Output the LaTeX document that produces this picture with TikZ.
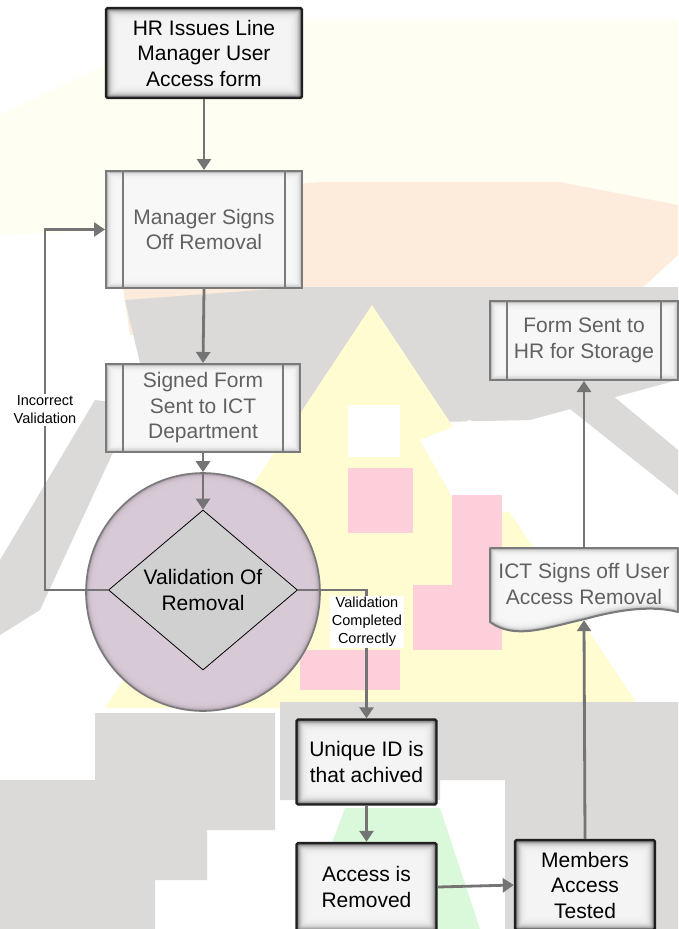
\documentclass[tikz,border=0pt]{standalone}
\usepackage{fontspec}
\setmainfont{Liberation Sans}
\usetikzlibrary{arrows.meta,shapes.geometric,calc}
\definecolor{connc}{HTML}{747474}
\definecolor{procb}{HTML}{7A7A7A}
\definecolor{purp}{HTML}{D9C9D8}
\definecolor{diaf}{HTML}{D0D0D0}
\definecolor{bggray}{HTML}{DCDAD8}
\definecolor{bgyel}{HTML}{FFFCD2}
\definecolor{bgpeach}{HTML}{FDECDC}
\definecolor{bgpink}{HTML}{FCCFDA}
\definecolor{bggreen}{HTML}{DAF8DA}
\definecolor{bgcream}{HTML}{FFFEF2}
\tikzset{
  conn/.style={draw=connc, line width=2.8pt},
  arr/.style={conn, -{Triangle[width=14pt,length=11pt]}},
  base/.style={rectangle, align=center, font=\fontsize{21}{25.5}\selectfont, inner sep=0pt},
  darkbox/.style={base, draw=black!88, line width=2.4pt, rounded corners=1.5pt, text=black,
    path picture={\foreach \i in {0,...,18}{\pgfmathsetmacro\c{4+70*exp(-\i/3.6)}
      \fill[black!\c] ([shift={(\i*0.75pt,\i*0.75pt)}]path picture bounding box.south west)
        rectangle ([shift={(-\i*0.75pt,-\i*0.75pt)}]path picture bounding box.north east);}}},
  procbox/.style={base, draw=procb, line width=2pt, text=black!62,
    path picture={\foreach \i in {0,...,14}{\pgfmathsetmacro\c{3+32*exp(-\i/2.8)}
      \fill[black!\c] ([shift={(\i*0.75pt,\i*0.75pt)}]path picture bounding box.south west)
        rectangle ([shift={(-\i*0.75pt,-\i*0.75pt)}]path picture bounding box.north east);}
      \draw[procb, line width=1.6pt] ([xshift=17pt]path picture bounding box.south west) -- ([xshift=17pt]path picture bounding box.north west);
      \draw[procb, line width=1.6pt] ([xshift=-17pt]path picture bounding box.south east) -- ([xshift=-17pt]path picture bounding box.north east);}},
  lbl/.style={fill=white, align=center, font=\fontsize{14.5}{18}\selectfont, inner sep=1.5pt, text=black},
}
\begin{document}
\begin{tikzpicture}[x=1pt,y=-1pt]
\useasboundingbox (0,0) rectangle (678,929);
\fill[white] (0,0) rectangle (678,929);
% ---- faded background watermark ----
\fill[bgcream] (0,115) -- (200,20) -- (678,20) -- (678,210) -- (0,235) -- cycle;
\fill[bgpeach] (110,200) -- (320,182) -- (560,182) -- (678,205) -- (678,255) -- (640,290) -- (130,335) -- cycle;
\fill[bggray] (125,300) -- (300,287) -- (678,287) -- (678,380) -- (530,420) -- (300,425) -- (150,405) -- cycle;
\fill[bggray] (0,560) -- (95,400) -- (135,405) -- (40,610) -- (0,635) -- cycle;
\fill[bggray] (540,385) -- (600,385) -- (678,450) -- (678,495) -- cycle;
\fill[bgyel] (372,305) -- (105,708) -- (640,708) -- cycle;
\fill[white] (348,405) rectangle (400,457);
\fill[white] (420,440) -- (470,420) -- (530,465) -- (515,510) -- (465,520) -- cycle;
\fill[bgpink] (348,468) rectangle (413,533);
\fill[bgpink] (413,585) rectangle (480,650);
\fill[bgpink] (452,495) rectangle (502,650);
\fill[bgpink] (300,650) rectangle (400,690);
\fill[bggray] (0,780) -- (95,780) -- (95,713) -- (275,713) -- (275,830) -- (207,830) -- (207,880) -- (155,880) -- (155,929) -- (0,929) -- cycle;
\fill[bggray] (280,702) -- (678,702) -- (678,929) -- (505,929) -- (505,780) -- (440,780) -- (440,800) -- (280,800) -- cycle;
\fill[bggreen] (345,808) -- (440,808) -- (480,929) -- (300,929) -- cycle;
% ---- nodes ----
\node[darkbox, minimum width=196, minimum height=90] (b1) at (204,53) {HR Issues Line\\Manager User\\Access form};
\node[procbox, minimum width=196, minimum height=117] (b2) at (204,229.5) {Manager Signs\\Off Removal};
\node[procbox, minimum width=194, minimum height=88] (b3) at (203,408) {Signed Form\\Sent to ICT\\Department};
\node[ellipse, minimum width=234, minimum height=238, inner sep=0pt, fill=purp, draw=procb, line width=1.6pt,
  path picture={\foreach \i in {0,...,12}{\pgfmathsetmacro\p{100-32*exp(-\i/2.4)}
    \fill[purp!\p!black] (path picture bounding box.center) ellipse ({117pt-\i*0.75pt} and {119pt-\i*0.75pt});}}]
  (circ) at (203,592) {};
\node[diamond, aspect=1.18, minimum width=189, minimum height=160, inner sep=0pt, fill=diaf, draw=black, line width=0.8pt,
  align=center, font=\fontsize{21}{25.5}\selectfont] (dia) at (203,590) {Validation Of\\Removal};
\node[darkbox, minimum width=140, minimum height=85] (u) at (366.5,762) {Unique ID is\\that achived};
\node[darkbox, minimum width=140, minimum height=88] (ar) at (366.5,887) {Access is\\Removed};
\node[darkbox, minimum width=140, minimum height=90] (mt) at (585,885) {Members\\Access\\Tested};
\node[procbox, minimum width=188, minimum height=79] (fs) at (584,340.5) {Form Sent to\\HR for Storage};
% document shape
\fill[black!3] (490,548) -- (678,548) -- (678,612) .. controls (655,606) and (625,608) .. (585,619) .. controls (545,628) and (515,640) .. (490,622) -- cycle;
\begin{scope}
\clip (490,548) -- (678,548) -- (678,612) .. controls (655,606) and (625,608) .. (585,619) .. controls (545,628) and (515,640) .. (490,622) -- cycle;
\foreach \k in {16,...,1}{\pgfmathsetmacro\c{3+32*exp(-(\k-1)/2.8)}
  \draw[black!\c, line width=\k*1.5pt] (490,548) -- (678,548) -- (678,612) .. controls (655,606) and (625,608) .. (585,619) .. controls (545,628) and (515,640) .. (490,622) -- cycle;}
\end{scope}
\draw[procb, line width=2pt, line join=round] (490,548) -- (678,548) -- (678,612) .. controls (655,606) and (625,608) .. (585,619) .. controls (545,628) and (515,640) .. (490,622) -- cycle;
\node[base, text=black!62, minimum width=188, minimum height=72] (ict) at (584,584) {ICT Signs off User\\Access Removal};
% ---- connectors ----
\coordinate (lx) at (45,410);
\draw[arr] (b1.south) -- (b2.north);
\draw[arr] (b2.south) -- (b3.north);
\draw[arr] (b3.south) -- (circ.north);
\draw[arr] (circ.north) -- (dia.north);
\draw[arr] (dia.west) -| (lx) |- (b2.west);
\node[lbl] (il) at (lx) {Incorrect\\Validation};
\draw[arr] (dia.east) -| (u.north);
\node[lbl] (vc) at (367,622) {Validation\\Completed\\Correctly};
\draw[arr] (u.south) -- (ar.north);
\draw[arr] (ar.east) -- (mt.west);
\draw[arr] (mt.north) -- (ict.south);
\draw[arr] (ict.north) -- (fs.south);
\end{tikzpicture}
\end{document}
